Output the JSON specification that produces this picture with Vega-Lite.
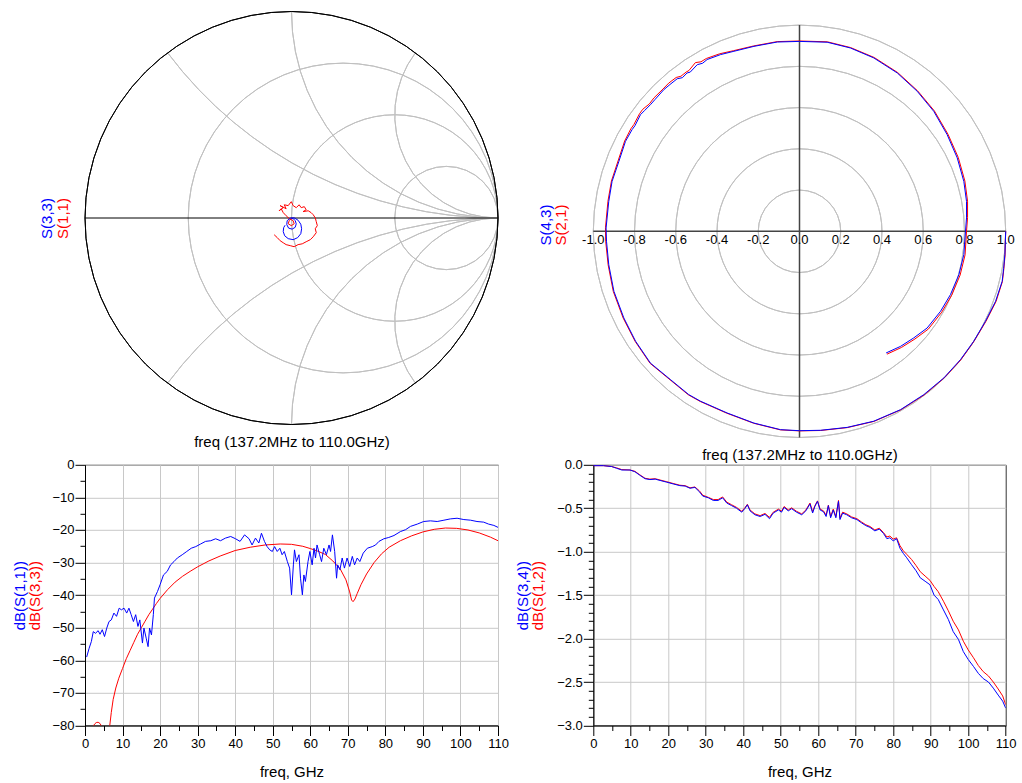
{
  "$schema": "https://vega.github.io/schema/vega-lite/v6.json",
  "background": "white",
  "padding": {"left": 11, "top": 9.5, "right": 4, "bottom": 4},
  "locale": {"number": {"decimal": ".", "thousands": ",", "grouping": [3], "currency": ["", ""], "minus": "-"}},
  "config": {
    "font": "Liberation Sans",
    "view": {"stroke": null},
    "axis": {
      "labelFont": "Liberation Sans", "titleFont": "Liberation Sans",
      "labelFontSize": 13, "titleFontSize": 15, "titleFontWeight": "normal",
      "labelColor": "#000", "titleColor": "#000", "domainColor": "#000", "tickColor": "#000",
      "gridColor": "#c8c8c8", "gridWidth": 1, "labelOverlap": false, "labelFlush": false
    }
  },
  "columns": 2,
  "bounds": "flush",
  "spacing": {"row": 27.3, "column": 95.3},
  "concat": [
    {
      "width": 413, "height": 413,
      "layer": [
        {
          "data": {"name": "smithGrid"},
          "mark": {"type": "arc", "filled": false, "color": "#c0c0c0", "stroke": "#c0c0c0", "strokeWidth": 1},
          "encoding": {
            "x": {"field": "cx", "type": "quantitative", "scale": {"domain": [-1, 1], "nice": false, "zero": false}, "axis": null},
            "y": {"field": "cy", "type": "quantitative", "scale": {"domain": [-1, 1], "nice": false, "zero": false}, "axis": null},
            "radius": {"field": "rad", "type": "quantitative", "scale": {"type": "linear", "domain": [0, 1], "range": [0, 206.5], "zero": true}},
            "radius2": {"field": "rad"},
            "theta": {"field": "t1", "type": "quantitative", "scale": {"domain": [0, 360], "range": [0, 6.283185307179586]}, "stack": false},
            "theta2": {"field": "t2"}
          }
        },
        {
          "data": {"name": "smithOuter"},
          "mark": {"type": "arc", "filled": false, "color": "#000", "stroke": "#000", "strokeWidth": 1},
          "encoding": {
            "x": {"field": "cx", "type": "quantitative", "scale": {"domain": [-1, 1], "nice": false, "zero": false}, "axis": null},
            "y": {"field": "cy", "type": "quantitative", "scale": {"domain": [-1, 1], "nice": false, "zero": false}, "axis": null},
            "radius": {"field": "rad", "type": "quantitative", "scale": {"type": "linear", "domain": [0, 1], "range": [0, 206.5], "zero": true}},
            "radius2": {"field": "rad"},
            "theta": {"field": "t1", "type": "quantitative", "scale": {"domain": [0, 360], "range": [0, 6.283185307179586]}, "stack": false},
            "theta2": {"field": "t2"}
          }
        },
        {
          "data": {"name": "smithAxis"},
          "mark": {"type": "rule", "color": "#000", "strokeWidth": 1},
          "encoding": {
            "x": {"field": "x1", "type": "quantitative", "scale": {"domain": [-1, 1], "nice": false, "zero": false}, "axis": null},
            "x2": {"field": "x2"},
            "y": {"field": "y1", "type": "quantitative", "scale": {"domain": [-1, 1], "nice": false, "zero": false}, "axis": null},
            "y2": {"field": "y2"}
          }
        },
        {
          "data": {"name": "s11smith"},
          "mark": {"type": "line", "color": "#ff0000", "strokeWidth": 1},
          "encoding": {
            "x": {"field": "re", "type": "quantitative", "scale": {"domain": [-1, 1], "nice": false, "zero": false},
                  "axis": {"orient": "bottom", "title": "freq (137.2MHz to 110.0GHz)", "domain": false, "ticks": false, "labels": false, "grid": false, "titlePadding": 10}},
            "y": {"field": "im", "type": "quantitative", "scale": {"domain": [-1, 1], "nice": false, "zero": false},
                  "axis": {"orient": "left", "title": "S(1,1)", "titleColor": "#ff0000", "domain": false, "ticks": false, "labels": false, "grid": false, "titleX": -22.5, "titleBaseline": "middle"}},
            "order": {"field": "i", "type": "quantitative"}
          }
        },
        {
          "data": {"name": "s33smith"},
          "mark": {"type": "line", "color": "#0000ff", "strokeWidth": 1},
          "encoding": {
            "x": {"field": "re", "type": "quantitative", "scale": {"domain": [-1, 1], "nice": false, "zero": false}, "axis": null},
            "y": {"field": "im", "type": "quantitative", "scale": {"domain": [-1, 1], "nice": false, "zero": false},
                  "axis": {"orient": "left", "title": "S(3,3)", "titleColor": "#0000ff", "domain": false, "ticks": false, "labels": false, "grid": false, "titleX": -38.3, "titleBaseline": "middle"}},
            "order": {"field": "i", "type": "quantitative"}
          }
        }
      ],
      "resolve": {"axis": {"x": "independent", "y": "independent"}}
    },
    {
      "width": 412.4, "height": 426,
      "layer": [
        {
          "data": {"name": "polarGrid"},
          "mark": {"type": "arc", "filled": false, "color": "#c0c0c0", "stroke": "#c0c0c0", "strokeWidth": 1},
          "encoding": {
            "x": {"field": "cx", "type": "quantitative", "scale": {"domain": [-1, 1], "nice": false, "zero": false}, "axis": null},
            "y": {"field": "cy", "type": "quantitative", "scale": {"domain": [-1, 1.066], "nice": false, "zero": false}, "axis": null},
            "radius": {"field": "rad", "type": "quantitative", "scale": {"type": "linear", "domain": [0, 1], "range": [0, 206.2], "zero": true}},
            "radius2": {"field": "rad"},
            "theta": {"field": "t1", "type": "quantitative", "scale": {"domain": [0, 360], "range": [0, 6.283185307179586]}, "stack": false},
            "theta2": {"field": "t2"}
          }
        },
        {
          "data": {"name": "polarAxes"},
          "mark": {"type": "rule", "color": "#444444", "strokeWidth": 1.5},
          "encoding": {
            "x": {"field": "x1", "type": "quantitative", "scale": {"domain": [-1, 1], "nice": false, "zero": false}, "axis": null},
            "x2": {"field": "x2"},
            "y": {"field": "y1", "type": "quantitative", "scale": {"domain": [-1, 1.066], "nice": false, "zero": false}, "axis": null},
            "y2": {"field": "y2"}
          }
        },
        {
          "data": {"name": "polarLabels"},
          "mark": {"type": "text", "fontSize": 13, "font": "Liberation Sans", "color": "#000", "align": "center", "baseline": "middle", "dy": 9},
          "encoding": {
            "x": {"field": "v", "type": "quantitative", "scale": {"domain": [-1, 1], "nice": false, "zero": false}, "axis": null},
            "y": {"field": "w", "type": "quantitative", "scale": {"domain": [-1, 1.066], "nice": false, "zero": false}, "axis": null},
            "text": {"field": "lab"}
          }
        },
        {
          "data": {"name": "s21polar"},
          "mark": {"type": "line", "color": "#ff0000", "strokeWidth": 1},
          "encoding": {
            "x": {"field": "re", "type": "quantitative", "scale": {"domain": [-1, 1], "nice": false, "zero": false},
                  "axis": {"orient": "bottom", "title": "freq (137.2MHz to 110.0GHz)", "domain": false, "ticks": false, "labels": false, "grid": false, "titlePadding": 10}},
            "y": {"field": "im", "type": "quantitative", "scale": {"domain": [-1, 1.066], "nice": false, "zero": false},
                  "axis": {"orient": "left", "title": "S(2,1)", "titleColor": "#ff0000", "domain": false, "ticks": false, "labels": false, "grid": false, "titleX": -33, "titleBaseline": "middle"}},
            "order": {"field": "i", "type": "quantitative"}
          }
        },
        {
          "data": {"name": "s43polar"},
          "mark": {"type": "line", "color": "#0000ff", "strokeWidth": 1},
          "encoding": {
            "x": {"field": "re", "type": "quantitative", "scale": {"domain": [-1, 1], "nice": false, "zero": false}, "axis": null},
            "y": {"field": "im", "type": "quantitative", "scale": {"domain": [-1, 1.066], "nice": false, "zero": false},
                  "axis": {"orient": "left", "title": "S(4,3)", "titleColor": "#0000ff", "domain": false, "ticks": false, "labels": false, "grid": false, "titleX": -47.5, "titleBaseline": "middle"}},
            "order": {"field": "i", "type": "quantitative"}
          }
        }
      ],
      "resolve": {"axis": {"x": "independent", "y": "independent"}}
    },
    {
      "width": 413, "height": 260.7,
      "view": {"stroke": "#000", "strokeWidth": 1},
      "layer": [
        {
          "data": {"name": "s33db"},
          "mark": {"type": "line", "color": "#ff0000", "strokeWidth": 1, "clip": true},
          "encoding": {
            "x": {"field": "f", "type": "quantitative", "scale": {"domain": [0, 110], "nice": false, "zero": false},
                  "axis": {"orient": "bottom", "values": [0, 10, 20, 30, 40, 50, 60, 70, 80, 90, 100, 110], "format": "d", "tickSize": 10, "labelPadding": 2, "grid": true, "title": "freq, GHz", "titlePadding": 14}},
            "y": {"field": "db", "type": "quantitative", "scale": {"domain": [-80, 0], "nice": false, "zero": false},
                  "axis": {"orient": "left", "values": [0, -10, -20, -30, -40, -50, -60, -70, -80], "format": "d", "tickSize": 10, "labelPadding": 1, "grid": true, "title": "dB(S(3,3))", "titleColor": "#ff0000", "titleX": -51, "titleBaseline": "middle"}}
          }
        },
        {
          "data": {"name": "s11db"},
          "mark": {"type": "line", "color": "#0000ff", "strokeWidth": 1, "clip": true},
          "encoding": {
            "x": {"field": "f", "type": "quantitative", "scale": {"domain": [0, 110], "nice": false, "zero": false},
                  "axis": {"orient": "bottom", "values": [5, 15, 25, 35, 45, 55, 65, 75, 85, 95, 105], "tickSize": 5, "labels": false, "domain": false, "grid": false, "title": null}},
            "y": {"field": "db", "type": "quantitative", "scale": {"domain": [-80, 0], "nice": false, "zero": false},
                  "axis": {"orient": "left", "values": [-5, -15, -25, -35, -45, -55, -65, -75], "tickSize": 5, "labels": false, "domain": false, "grid": false, "title": "dB(S(1,1))", "titleColor": "#0000ff", "titleX": -66, "titleBaseline": "middle"}}
          }
        }
      ],
      "resolve": {"axis": {"x": "independent", "y": "independent"}}
    },
    {
      "width": 412.4, "height": 260.7,
      "view": {"stroke": "#000", "strokeWidth": 1},
      "layer": [
        {
          "data": {"name": "s12db"},
          "mark": {"type": "line", "color": "#ff0000", "strokeWidth": 1, "clip": true},
          "encoding": {
            "x": {"field": "f", "type": "quantitative", "scale": {"domain": [0, 110], "nice": false, "zero": false},
                  "axis": {"orient": "bottom", "values": [0, 10, 20, 30, 40, 50, 60, 70, 80, 90, 100, 110], "format": "d", "tickSize": 10, "labelPadding": 2, "grid": true, "title": "freq, GHz", "titlePadding": 14}},
            "y": {"field": "db", "type": "quantitative", "scale": {"domain": [-3, 0], "nice": false, "zero": false},
                  "axis": {"orient": "left", "values": [0, -0.5, -1, -1.5, -2, -2.5, -3], "format": ".1f", "tickSize": 10, "labelPadding": 1, "grid": true, "title": "dB(S(1,2))", "titleColor": "#ff0000", "titleX": -55.8, "titleBaseline": "middle"}}
          }
        },
        {
          "data": {"name": "s34db"},
          "mark": {"type": "line", "color": "#0000ff", "strokeWidth": 1, "clip": true},
          "encoding": {
            "x": {"field": "f", "type": "quantitative", "scale": {"domain": [0, 110], "nice": false, "zero": false},
                  "axis": {"orient": "bottom", "values": [5, 15, 25, 35, 45, 55, 65, 75, 85, 95, 105], "tickSize": 5, "labels": false, "domain": false, "grid": false, "title": null}},
            "y": {"field": "db", "type": "quantitative", "scale": {"domain": [-3, 0], "nice": false, "zero": false},
                  "axis": {"orient": "left", "values": [-0.1, -0.2, -0.3, -0.4, -0.6, -0.7, -0.8, -0.9, -1.1, -1.2, -1.3, -1.4, -1.6, -1.7, -1.8, -1.9, -2.1, -2.2, -2.3, -2.4, -2.6, -2.7, -2.8, -2.9], "tickSize": 5, "labels": false, "domain": false, "grid": false, "title": "dB(S(3,4))", "titleColor": "#0000ff", "titleX": -71.3, "titleBaseline": "middle"}}
          }
        }
      ],
      "resolve": {"axis": {"x": "independent", "y": "independent"}}
    }
  ],
  "datasets": {
    "smithGrid": [
      {"cx": 0.25, "cy": 0, "rad": 0.75, "t1": 0, "t2": 360},
      {"cx": 0.5, "cy": 0, "rad": 0.5, "t1": 0, "t2": 360},
      {"cx": 0.75, "cy": 0, "rad": 0.25, "t1": 0, "t2": 360},
      {"cx": 1, "cy": 2, "rad": 2, "t1": 180, "t2": 233.13},
      {"cx": 1, "cy": 1, "rad": 1, "t1": 180, "t2": 270},
      {"cx": 1, "cy": 0.5, "rad": 0.5, "t1": 180, "t2": 306.87},
      {"cx": 1, "cy": -2, "rad": 2, "t1": 306.87, "t2": 360},
      {"cx": 1, "cy": -1, "rad": 1, "t1": 270, "t2": 360},
      {"cx": 1, "cy": -0.5, "rad": 0.5, "t1": 233.13, "t2": 360}
    ],
    "smithOuter": [{"cx": 0, "cy": 0, "rad": 1, "t1": 0, "t2": 360}],
    "smithAxis": [{"x1": -1, "x2": 1, "y1": 0, "y2": 0}],
    "polarGrid": [
      {"cx": 0, "cy": 0, "rad": 0.2, "t1": 0, "t2": 360},
      {"cx": 0, "cy": 0, "rad": 0.4, "t1": 0, "t2": 360},
      {"cx": 0, "cy": 0, "rad": 0.6, "t1": 0, "t2": 360},
      {"cx": 0, "cy": 0, "rad": 0.8, "t1": 0, "t2": 360},
      {"cx": 0, "cy": 0, "rad": 1.0, "t1": 0, "t2": 360}
    ],
    "polarAxes": [
      {"x1": -1, "x2": 1, "y1": 0, "y2": 0},
      {"x1": 0, "x2": 0, "y1": -1, "y2": 1}
    ],
    "polarLabels": [
      {"v": -1.0, "w": 0, "lab": "-1.0"}, {"v": -0.8, "w": 0, "lab": "-0.8"}, {"v": -0.6, "w": 0, "lab": "-0.6"},
      {"v": -0.4, "w": 0, "lab": "-0.4"}, {"v": -0.2, "w": 0, "lab": "-0.2"}, {"v": 0.0, "w": 0, "lab": "0.0"},
      {"v": 0.2, "w": 0, "lab": "0.2"}, {"v": 0.4, "w": 0, "lab": "0.4"}, {"v": 0.6, "w": 0, "lab": "0.6"},
      {"v": 0.8, "w": 0, "lab": "0.8"}, {"v": 1.0, "w": 0, "lab": "1.0"}
    ],
    "s11smith": [
      {"i": 0, "re": 0, "im": 0}, {"i": 1, "re": -0.011, "im": -0.013}, {"i": 2, "re": -0.016, "im": -0.028},
      {"i": 3, "re": -0.001, "im": -0.037}, {"i": 4, "re": 0.013, "im": -0.028}, {"i": 5, "re": 0.008, "im": -0.013},
      {"i": 6, "re": -0.011, "im": -0.003}, {"i": 7, "re": -0.026, "im": 0.011}, {"i": 8, "re": -0.040, "im": 0.026},
      {"i": 9, "re": -0.050, "im": 0.045}, {"i": 10, "re": -0.060, "im": 0.035}, {"i": 11, "re": -0.040, "im": 0.050},
      {"i": 12, "re": -0.055, "im": 0.060}, {"i": 13, "re": -0.026, "im": 0.045}, {"i": 14, "re": -0.035, "im": 0.064},
      {"i": 15, "re": -0.016, "im": 0.060}, {"i": 16, "re": -0.001, "im": 0.079}, {"i": 17, "re": 0.008, "im": 0.060},
      {"i": 18, "re": 0.023, "im": 0.050}, {"i": 19, "re": 0.037, "im": 0.064}, {"i": 20, "re": 0.047, "im": 0.050},
      {"i": 21, "re": 0.062, "im": 0.055}, {"i": 22, "re": 0.071, "im": 0.040}, {"i": 23, "re": 0.056, "im": 0.031},
      {"i": 24, "re": 0.081, "im": 0.035}, {"i": 25, "re": 0.095, "im": 0.026}, {"i": 26, "re": 0.105, "im": 0.016},
      {"i": 27, "re": 0.115, "im": 0.001}, {"i": 28, "re": 0.120, "im": -0.018}, {"i": 29, "re": 0.125, "im": -0.037},
      {"i": 30, "re": 0.115, "im": -0.052}, {"i": 31, "re": 0.120, "im": -0.071}, {"i": 32, "re": 0.105, "im": -0.091},
      {"i": 33, "re": 0.091, "im": -0.105}, {"i": 34, "re": 0.071, "im": -0.115}, {"i": 35, "re": 0.052, "im": -0.125},
      {"i": 36, "re": 0.032, "im": -0.129}, {"i": 37, "re": 0.013, "im": -0.139}, {"i": 38, "re": -0.006, "im": -0.134},
      {"i": 39, "re": -0.026, "im": -0.129}, {"i": 40, "re": -0.040, "im": -0.120}, {"i": 41, "re": -0.055, "im": -0.110},
      {"i": 42, "re": -0.069, "im": -0.095}, {"i": 43, "re": -0.084, "im": -0.081}
    ],
    "s33smith": [
      {"i": 0, "re": 0, "im": 0}, {"i": 1, "re": 0.008, "im": -0.003}, {"i": 2, "re": 0.018, "im": -0.013},
      {"i": 3, "re": 0.023, "im": -0.028}, {"i": 4, "re": 0.018, "im": -0.045}, {"i": 5, "re": 0.003, "im": -0.054},
      {"i": 6, "re": -0.014, "im": -0.049}, {"i": 7, "re": -0.023, "im": -0.032}, {"i": 8, "re": -0.021, "im": -0.013},
      {"i": 9, "re": -0.006, "im": -0.001}, {"i": 10, "re": 0.013, "im": 0.001}, {"i": 11, "re": 0.032, "im": -0.011},
      {"i": 12, "re": 0.045, "im": -0.030}, {"i": 13, "re": 0.049, "im": -0.052}, {"i": 14, "re": 0.045, "im": -0.076},
      {"i": 15, "re": 0.030, "im": -0.095}, {"i": 16, "re": 0.008, "im": -0.105}, {"i": 17, "re": -0.016, "im": -0.100},
      {"i": 18, "re": -0.033, "im": -0.086}, {"i": 19, "re": -0.040, "im": -0.066}, {"i": 20, "re": -0.038, "im": -0.047},
      {"i": 21, "re": -0.031, "im": -0.035}
    ],
    "s43polar": [
      {"i": 0, "re": 1.000, "im": 0.000}, {"i": 1, "re": 0.998, "im": -0.060}, {"i": 2, "re": 0.996, "im": -0.113},
      {"i": 3, "re": 0.990, "im": -0.180}, {"i": 4, "re": 0.983, "im": -0.242}, {"i": 5, "re": 0.951, "im": -0.339},
      {"i": 6, "re": 0.902, "im": -0.436}, {"i": 7, "re": 0.845, "im": -0.533}, {"i": 8, "re": 0.781, "im": -0.622},
      {"i": 9, "re": 0.700, "im": -0.711}, {"i": 10, "re": 0.603, "im": -0.792}, {"i": 11, "re": 0.490, "im": -0.865},
      {"i": 12, "re": 0.360, "im": -0.921}, {"i": 13, "re": 0.231, "im": -0.951}, {"i": 14, "re": 0.102, "im": -0.965},
      {"i": 15, "re": 0.000, "im": -0.967}, {"i": 16, "re": -0.092, "im": -0.962}, {"i": 17, "re": -0.221, "im": -0.930},
      {"i": 18, "re": -0.351, "im": -0.881}, {"i": 19, "re": -0.480, "im": -0.824}, {"i": 20, "re": -0.537, "im": -0.792},
      {"i": 21, "re": -0.626, "im": -0.719}, {"i": 22, "re": -0.723, "im": -0.639}, {"i": 23, "re": -0.795, "im": -0.533},
      {"i": 24, "re": -0.852, "im": -0.420}, {"i": 25, "re": -0.900, "im": -0.291}, {"i": 26, "re": -0.925, "im": -0.162},
      {"i": 27, "re": -0.936, "im": -0.048}, {"i": 28, "re": -0.938, "im": 0.016}, {"i": 29, "re": -0.925, "im": 0.145},
      {"i": 30, "re": -0.909, "im": 0.242}, {"i": 31, "re": -0.876, "im": 0.339}, {"i": 32, "re": -0.844, "im": 0.436},
      {"i": 33, "re": -0.812, "im": 0.493}, {"i": 34, "re": -0.798, "im": 0.512}, {"i": 35, "re": -0.771, "im": 0.566},
      {"i": 36, "re": -0.752, "im": 0.585}, {"i": 37, "re": -0.723, "im": 0.614}, {"i": 38, "re": -0.700, "im": 0.640},
      {"i": 39, "re": -0.658, "im": 0.687}, {"i": 40, "re": -0.628, "im": 0.712}, {"i": 41, "re": -0.593, "im": 0.740},
      {"i": 42, "re": -0.568, "im": 0.745}, {"i": 43, "re": -0.545, "im": 0.768}, {"i": 44, "re": -0.530, "im": 0.772},
      {"i": 45, "re": -0.496, "im": 0.808}, {"i": 46, "re": -0.470, "im": 0.815}, {"i": 47, "re": -0.448, "im": 0.833},
      {"i": 48, "re": -0.383, "im": 0.857}, {"i": 49, "re": -0.318, "im": 0.873}, {"i": 50, "re": -0.221, "im": 0.897},
      {"i": 51, "re": -0.108, "im": 0.918}, {"i": 52, "re": 0.000, "im": 0.921}, {"i": 53, "re": 0.134, "im": 0.917},
      {"i": 54, "re": 0.247, "im": 0.889}, {"i": 55, "re": 0.360, "im": 0.841}, {"i": 56, "re": 0.474, "im": 0.768},
      {"i": 57, "re": 0.571, "im": 0.679}, {"i": 58, "re": 0.651, "im": 0.582}, {"i": 59, "re": 0.716, "im": 0.469},
      {"i": 60, "re": 0.765, "im": 0.356}, {"i": 61, "re": 0.797, "im": 0.242}, {"i": 62, "re": 0.810, "im": 0.145},
      {"i": 63, "re": 0.810, "im": 0.065}, {"i": 64, "re": 0.805, "im": 0.000}, {"i": 65, "re": 0.797, "im": -0.113},
      {"i": 66, "re": 0.773, "im": -0.210}, {"i": 67, "re": 0.732, "im": -0.307}, {"i": 68, "re": 0.684, "im": -0.388},
      {"i": 69, "re": 0.619, "im": -0.469}, {"i": 70, "re": 0.554, "im": -0.517}, {"i": 71, "re": 0.490, "im": -0.558},
      {"i": 72, "re": 0.420, "im": -0.590}
    ],
    "s21polar": [
      {"i": 0, "re": 1.000, "im": 0.000}, {"i": 1, "re": 0.998, "im": -0.062}, {"i": 2, "re": 0.997, "im": -0.115},
      {"i": 3, "re": 0.991, "im": -0.182}, {"i": 4, "re": 0.984, "im": -0.244}, {"i": 5, "re": 0.953, "im": -0.341},
      {"i": 6, "re": 0.904, "im": -0.437}, {"i": 7, "re": 0.846, "im": -0.534}, {"i": 8, "re": 0.782, "im": -0.624},
      {"i": 9, "re": 0.701, "im": -0.712}, {"i": 10, "re": 0.604, "im": -0.794}, {"i": 11, "re": 0.491, "im": -0.866},
      {"i": 12, "re": 0.361, "im": -0.922}, {"i": 13, "re": 0.232, "im": -0.952}, {"i": 14, "re": 0.103, "im": -0.966},
      {"i": 15, "re": 0.000, "im": -0.968}, {"i": 16, "re": -0.093, "im": -0.963}, {"i": 17, "re": -0.222, "im": -0.931},
      {"i": 18, "re": -0.353, "im": -0.882}, {"i": 19, "re": -0.482, "im": -0.825}, {"i": 20, "re": -0.539, "im": -0.793},
      {"i": 21, "re": -0.628, "im": -0.720}, {"i": 22, "re": -0.725, "im": -0.640}, {"i": 23, "re": -0.797, "im": -0.534},
      {"i": 24, "re": -0.855, "im": -0.421}, {"i": 25, "re": -0.903, "im": -0.292}, {"i": 26, "re": -0.928, "im": -0.163},
      {"i": 27, "re": -0.940, "im": -0.048}, {"i": 28, "re": -0.941, "im": 0.017}, {"i": 29, "re": -0.929, "im": 0.146},
      {"i": 30, "re": -0.912, "im": 0.244}, {"i": 31, "re": -0.880, "im": 0.341}, {"i": 32, "re": -0.848, "im": 0.438},
      {"i": 33, "re": -0.818, "im": 0.497}, {"i": 34, "re": -0.803, "im": 0.518}, {"i": 35, "re": -0.776, "im": 0.570},
      {"i": 36, "re": -0.760, "im": 0.592}, {"i": 37, "re": -0.728, "im": 0.618}, {"i": 38, "re": -0.706, "im": 0.647},
      {"i": 39, "re": -0.662, "im": 0.690}, {"i": 40, "re": -0.634, "im": 0.719}, {"i": 41, "re": -0.598, "im": 0.746},
      {"i": 42, "re": -0.575, "im": 0.752}, {"i": 43, "re": -0.550, "im": 0.772}, {"i": 44, "re": -0.536, "im": 0.780},
      {"i": 45, "re": -0.505, "im": 0.818}, {"i": 46, "re": -0.478, "im": 0.822}, {"i": 47, "re": -0.452, "im": 0.838},
      {"i": 48, "re": -0.387, "im": 0.861}, {"i": 49, "re": -0.320, "im": 0.876}, {"i": 50, "re": -0.222, "im": 0.899},
      {"i": 51, "re": -0.108, "im": 0.920}, {"i": 52, "re": 0.000, "im": 0.923}, {"i": 53, "re": 0.135, "im": 0.919},
      {"i": 54, "re": 0.248, "im": 0.891}, {"i": 55, "re": 0.362, "im": 0.843}, {"i": 56, "re": 0.476, "im": 0.770},
      {"i": 57, "re": 0.573, "im": 0.681}, {"i": 58, "re": 0.654, "im": 0.584}, {"i": 59, "re": 0.720, "im": 0.471},
      {"i": 60, "re": 0.770, "im": 0.358}, {"i": 61, "re": 0.802, "im": 0.244}, {"i": 62, "re": 0.815, "im": 0.146},
      {"i": 63, "re": 0.815, "im": 0.066}, {"i": 64, "re": 0.810, "im": 0.000}, {"i": 65, "re": 0.803, "im": -0.114},
      {"i": 66, "re": 0.779, "im": -0.212}, {"i": 67, "re": 0.738, "im": -0.310}, {"i": 68, "re": 0.690, "im": -0.392},
      {"i": 69, "re": 0.625, "im": -0.474}, {"i": 70, "re": 0.560, "im": -0.522}, {"i": 71, "re": 0.495, "im": -0.563},
      {"i": 72, "re": 0.424, "im": -0.596}
    ],
    "s11db": [
      {"f": 0.44, "db": -59.0}, {"f": 1.1, "db": -56.3}, {"f": 1.7, "db": -54.2}, {"f": 2.2, "db": -51.2},
      {"f": 2.8, "db": -51.7}, {"f": 3.5, "db": -50.9}, {"f": 4.0, "db": -52.0}, {"f": 4.6, "db": -50.6},
      {"f": 5.2, "db": -52.7}, {"f": 5.8, "db": -50.1}, {"f": 6.4, "db": -48.1}, {"f": 7.0, "db": -47.6},
      {"f": 7.7, "db": -45.5}, {"f": 8.4, "db": -46.5}, {"f": 9.1, "db": -44.0}, {"f": 9.7, "db": -44.5},
      {"f": 10.4, "db": -44.0}, {"f": 11.1, "db": -45.5}, {"f": 11.7, "db": -44.0}, {"f": 12.3, "db": -46.0},
      {"f": 12.9, "db": -48.1}, {"f": 13.5, "db": -46.0}, {"f": 14.1, "db": -49.6}, {"f": 14.6, "db": -47.6},
      {"f": 15.3, "db": -54.7}, {"f": 15.7, "db": -50.1}, {"f": 16.3, "db": -53.2}, {"f": 16.8, "db": -55.8},
      {"f": 17.2, "db": -50.1}, {"f": 17.7, "db": -52.2}, {"f": 18.2, "db": -46.0}, {"f": 18.5, "db": -40.9},
      {"f": 19.3, "db": -38.9}, {"f": 20.0, "db": -36.8}, {"f": 20.9, "db": -33.8}, {"f": 21.9, "db": -32.7},
      {"f": 22.8, "db": -30.7}, {"f": 23.7, "db": -29.7}, {"f": 24.6, "db": -28.6}, {"f": 25.9, "db": -27.6},
      {"f": 27.1, "db": -26.6}, {"f": 28.3, "db": -25.6}, {"f": 29.5, "db": -25.1}, {"f": 30.8, "db": -24.3},
      {"f": 32.1, "db": -23.5}, {"f": 33.5, "db": -23.3}, {"f": 34.8, "db": -22.7}, {"f": 36.1, "db": -23.3},
      {"f": 37.4, "db": -22.5}, {"f": 38.8, "db": -22.0}, {"f": 40.1, "db": -22.7}, {"f": 41.3, "db": -23.5},
      {"f": 42.5, "db": -21.5}, {"f": 43.7, "db": -22.7}, {"f": 44.5, "db": -24.6}, {"f": 45.4, "db": -22.5},
      {"f": 46.3, "db": -24.0}, {"f": 47.0, "db": -21.0}, {"f": 47.8, "db": -23.5}, {"f": 48.5, "db": -25.1},
      {"f": 49.2, "db": -26.1}, {"f": 49.9, "db": -26.6}, {"f": 50.5, "db": -25.1}, {"f": 51.2, "db": -26.6},
      {"f": 51.9, "db": -25.6}, {"f": 52.5, "db": -27.6}, {"f": 53.1, "db": -26.6}, {"f": 53.9, "db": -29.7},
      {"f": 54.5, "db": -31.7}, {"f": 55.0, "db": -39.9}, {"f": 55.5, "db": -30.7}, {"f": 55.8, "db": -26.1},
      {"f": 56.3, "db": -29.7}, {"f": 57.0, "db": -27.6}, {"f": 57.4, "db": -34.8}, {"f": 57.9, "db": -39.9},
      {"f": 58.3, "db": -33.8}, {"f": 58.7, "db": -35.8}, {"f": 59.4, "db": -29.7}, {"f": 59.9, "db": -26.6},
      {"f": 60.5, "db": -30.7}, {"f": 61.0, "db": -25.6}, {"f": 61.4, "db": -28.6}, {"f": 61.8, "db": -24.6},
      {"f": 62.5, "db": -27.6}, {"f": 63.0, "db": -29.7}, {"f": 63.6, "db": -25.6}, {"f": 64.3, "db": -27.6},
      {"f": 65.0, "db": -24.6}, {"f": 65.4, "db": -26.6}, {"f": 65.9, "db": -21.5}, {"f": 66.5, "db": -26.6},
      {"f": 67.0, "db": -34.8}, {"f": 67.3, "db": -30.7}, {"f": 67.9, "db": -32.2}, {"f": 68.5, "db": -28.6},
      {"f": 69.1, "db": -31.7}, {"f": 69.8, "db": -28.6}, {"f": 70.5, "db": -31.2}, {"f": 71.2, "db": -28.1},
      {"f": 71.8, "db": -30.7}, {"f": 72.5, "db": -28.6}, {"f": 73.2, "db": -29.7}, {"f": 74.1, "db": -27.1},
      {"f": 75.2, "db": -25.6}, {"f": 76.5, "db": -25.1}, {"f": 77.4, "db": -24.6}, {"f": 78.3, "db": -23.5},
      {"f": 79.6, "db": -22.7}, {"f": 80.9, "db": -22.3}, {"f": 82.3, "db": -21.7}, {"f": 84.0, "db": -20.5},
      {"f": 85.4, "db": -19.9}, {"f": 86.7, "db": -18.9}, {"f": 88.5, "db": -18.2}, {"f": 90.2, "db": -17.4},
      {"f": 92.0, "db": -17.2}, {"f": 93.8, "db": -17.4}, {"f": 95.6, "db": -17.0}, {"f": 97.3, "db": -16.6},
      {"f": 99.1, "db": -16.4}, {"f": 100.9, "db": -16.8}, {"f": 102.7, "db": -17.0}, {"f": 104.4, "db": -17.4},
      {"f": 106.2, "db": -17.6}, {"f": 107.5, "db": -18.2}, {"f": 108.9, "db": -18.6}, {"f": 110.0, "db": -19.2}
    ],
    "s33db": [
      {"f": 1.0, "db": -86}, {"f": 2.0, "db": -80.5}, {"f": 2.6, "db": -79.5}, {"f": 3.0, "db": -79.1},
      {"f": 3.5, "db": -79.0}, {"f": 4.0, "db": -79.4}, {"f": 4.5, "db": -80.4}, {"f": 5.0, "db": -83},
      {"f": 5.6, "db": -88}, {"f": 6.2, "db": -84}, {"f": 6.6, "db": -80}, {"f": 7.0, "db": -76},
      {"f": 7.5, "db": -72}, {"f": 8.2, "db": -68.5}, {"f": 9, "db": -65.5}, {"f": 10, "db": -62.5},
      {"f": 11, "db": -59.5}, {"f": 12, "db": -57}, {"f": 13, "db": -54.5}, {"f": 14, "db": -52},
      {"f": 15, "db": -50}, {"f": 16, "db": -48}, {"f": 17, "db": -46}, {"f": 18, "db": -44.3},
      {"f": 19, "db": -42.6}, {"f": 20, "db": -41}, {"f": 22, "db": -38.3}, {"f": 24, "db": -36},
      {"f": 26, "db": -34.2}, {"f": 28, "db": -32.7}, {"f": 30, "db": -31.3}, {"f": 33, "db": -29.5},
      {"f": 36, "db": -28}, {"f": 40, "db": -26.3}, {"f": 44, "db": -25.3}, {"f": 48, "db": -24.6},
      {"f": 52, "db": -24.3}, {"f": 55, "db": -24.4}, {"f": 58, "db": -25}, {"f": 60, "db": -25.7},
      {"f": 62, "db": -26.5}, {"f": 64, "db": -27.5}, {"f": 66, "db": -29.5}, {"f": 68, "db": -32},
      {"f": 69.5, "db": -35.3}, {"f": 70.5, "db": -39}, {"f": 71, "db": -41.5}, {"f": 71.4, "db": -42},
      {"f": 71.9, "db": -41.2}, {"f": 72.5, "db": -39.5}, {"f": 73.5, "db": -36.8}, {"f": 75, "db": -33.5},
      {"f": 77, "db": -30}, {"f": 79, "db": -27.3}, {"f": 81, "db": -25.3}, {"f": 84, "db": -23.3},
      {"f": 87, "db": -21.8}, {"f": 90, "db": -20.6}, {"f": 93, "db": -19.8}, {"f": 96, "db": -19.4},
      {"f": 99, "db": -19.5}, {"f": 102, "db": -20}, {"f": 105, "db": -20.9}, {"f": 108, "db": -22.2},
      {"f": 110, "db": -23.3}
    ],
    "s34db": [
      {"f": 0, "db": -0.01}, {"f": 2.7, "db": -0.01}, {"f": 4.9, "db": -0.02}, {"f": 6.2, "db": -0.04},
      {"f": 7.6, "db": -0.06}, {"f": 9.8, "db": -0.06}, {"f": 11.1, "db": -0.08}, {"f": 12.4, "db": -0.12},
      {"f": 13.8, "db": -0.16}, {"f": 15.1, "db": -0.17}, {"f": 16.5, "db": -0.165}, {"f": 17.8, "db": -0.18},
      {"f": 19.6, "db": -0.2}, {"f": 21.3, "db": -0.22}, {"f": 23.1, "db": -0.24}, {"f": 24.5, "db": -0.245},
      {"f": 25.8, "db": -0.27}, {"f": 27.1, "db": -0.26}, {"f": 28.3, "db": -0.31}, {"f": 29.2, "db": -0.36},
      {"f": 30.7, "db": -0.38}, {"f": 32.0, "db": -0.41}, {"f": 33.3, "db": -0.41}, {"f": 34.5, "db": -0.38},
      {"f": 35.6, "db": -0.44}, {"f": 36.9, "db": -0.47}, {"f": 38.2, "db": -0.5}, {"f": 39.6, "db": -0.545},
      {"f": 40.5, "db": -0.5}, {"f": 41.1, "db": -0.46}, {"f": 41.8, "db": -0.53}, {"f": 43.1, "db": -0.575},
      {"f": 44.5, "db": -0.595}, {"f": 45.8, "db": -0.57}, {"f": 47.0, "db": -0.62}, {"f": 48.0, "db": -0.555},
      {"f": 49.4, "db": -0.52}, {"f": 50.2, "db": -0.545}, {"f": 50.9, "db": -0.49}, {"f": 52.0, "db": -0.53},
      {"f": 52.9, "db": -0.505}, {"f": 54.2, "db": -0.545}, {"f": 55.6, "db": -0.575}, {"f": 56.7, "db": -0.53},
      {"f": 57.8, "db": -0.45}, {"f": 58.5, "db": -0.555}, {"f": 59.1, "db": -0.48}, {"f": 59.8, "db": -0.42},
      {"f": 60.5, "db": -0.52}, {"f": 61.4, "db": -0.54}, {"f": 62.1, "db": -0.595}, {"f": 62.7, "db": -0.47},
      {"f": 63.3, "db": -0.61}, {"f": 64.0, "db": -0.52}, {"f": 64.7, "db": -0.61}, {"f": 65.4, "db": -0.42},
      {"f": 65.8, "db": -0.63}, {"f": 66.5, "db": -0.556}, {"f": 67.6, "db": -0.575}, {"f": 68.9, "db": -0.61},
      {"f": 70.3, "db": -0.63}, {"f": 71.6, "db": -0.67}, {"f": 72.7, "db": -0.70}, {"f": 73.8, "db": -0.72},
      {"f": 75.1, "db": -0.76}, {"f": 76.3, "db": -0.74}, {"f": 77.4, "db": -0.79}, {"f": 78.3, "db": -0.85},
      {"f": 79.1, "db": -0.84}, {"f": 80.0, "db": -0.875}, {"f": 80.9, "db": -0.85}, {"f": 81.8, "db": -0.96},
      {"f": 82.7, "db": -1.02}, {"f": 83.6, "db": -1.07}, {"f": 84.9, "db": -1.15}, {"f": 86.1, "db": -1.22},
      {"f": 87.2, "db": -1.30}, {"f": 88.5, "db": -1.34}, {"f": 89.8, "db": -1.38}, {"f": 90.9, "db": -1.50},
      {"f": 92.0, "db": -1.55}, {"f": 93.4, "db": -1.67}, {"f": 94.7, "db": -1.78}, {"f": 96.0, "db": -1.92},
      {"f": 97.4, "db": -2.01}, {"f": 98.7, "db": -2.15}, {"f": 100.0, "db": -2.24}, {"f": 101.4, "db": -2.32},
      {"f": 102.7, "db": -2.40}, {"f": 104.0, "db": -2.46}, {"f": 105.4, "db": -2.50}, {"f": 106.7, "db": -2.57},
      {"f": 108.0, "db": -2.65}, {"f": 109.2, "db": -2.72}, {"f": 110.0, "db": -2.80}
    ],
    "s12db": [
      {"f": 0, "db": -0.01}, {"f": 2.7, "db": -0.01}, {"f": 4.9, "db": -0.02}, {"f": 6.2, "db": -0.035},
      {"f": 7.6, "db": -0.055}, {"f": 9.8, "db": -0.06}, {"f": 11.1, "db": -0.075}, {"f": 12.4, "db": -0.115},
      {"f": 13.8, "db": -0.155}, {"f": 15.1, "db": -0.165}, {"f": 16.5, "db": -0.16}, {"f": 17.8, "db": -0.175},
      {"f": 19.6, "db": -0.195}, {"f": 21.3, "db": -0.215}, {"f": 23.1, "db": -0.235}, {"f": 24.5, "db": -0.24},
      {"f": 25.8, "db": -0.265}, {"f": 27.1, "db": -0.255}, {"f": 28.3, "db": -0.3}, {"f": 29.2, "db": -0.35},
      {"f": 30.7, "db": -0.375}, {"f": 32.0, "db": -0.4}, {"f": 33.3, "db": -0.4}, {"f": 34.5, "db": -0.37},
      {"f": 35.6, "db": -0.43}, {"f": 36.9, "db": -0.46}, {"f": 38.2, "db": -0.49}, {"f": 39.6, "db": -0.535},
      {"f": 40.5, "db": -0.49}, {"f": 41.1, "db": -0.455}, {"f": 41.8, "db": -0.52}, {"f": 43.1, "db": -0.565},
      {"f": 44.5, "db": -0.585}, {"f": 45.8, "db": -0.56}, {"f": 47.0, "db": -0.605}, {"f": 48.0, "db": -0.545},
      {"f": 49.4, "db": -0.51}, {"f": 50.2, "db": -0.535}, {"f": 50.9, "db": -0.48}, {"f": 52.0, "db": -0.52},
      {"f": 52.9, "db": -0.495}, {"f": 54.2, "db": -0.535}, {"f": 55.6, "db": -0.565}, {"f": 56.7, "db": -0.52},
      {"f": 57.8, "db": -0.44}, {"f": 58.5, "db": -0.54}, {"f": 59.1, "db": -0.47}, {"f": 59.8, "db": -0.415},
      {"f": 60.5, "db": -0.51}, {"f": 61.4, "db": -0.53}, {"f": 62.1, "db": -0.58}, {"f": 62.7, "db": -0.465},
      {"f": 63.3, "db": -0.595}, {"f": 64.0, "db": -0.51}, {"f": 64.7, "db": -0.595}, {"f": 65.4, "db": -0.41},
      {"f": 65.8, "db": -0.615}, {"f": 66.5, "db": -0.545}, {"f": 67.6, "db": -0.565}, {"f": 68.9, "db": -0.6},
      {"f": 70.3, "db": -0.62}, {"f": 71.6, "db": -0.66}, {"f": 72.7, "db": -0.69}, {"f": 73.8, "db": -0.71},
      {"f": 75.1, "db": -0.75}, {"f": 76.3, "db": -0.73}, {"f": 77.4, "db": -0.78}, {"f": 78.3, "db": -0.83},
      {"f": 79.1, "db": -0.82}, {"f": 80.0, "db": -0.855}, {"f": 80.9, "db": -0.84}, {"f": 81.8, "db": -0.93},
      {"f": 82.7, "db": -0.99}, {"f": 83.6, "db": -1.03}, {"f": 84.9, "db": -1.09}, {"f": 86.1, "db": -1.16},
      {"f": 87.2, "db": -1.23}, {"f": 88.5, "db": -1.28}, {"f": 89.8, "db": -1.33}, {"f": 90.9, "db": -1.40},
      {"f": 92.0, "db": -1.46}, {"f": 93.4, "db": -1.57}, {"f": 94.7, "db": -1.68}, {"f": 96.0, "db": -1.80},
      {"f": 97.4, "db": -1.90}, {"f": 98.7, "db": -2.03}, {"f": 100.0, "db": -2.13}, {"f": 101.4, "db": -2.22},
      {"f": 102.7, "db": -2.31}, {"f": 104.0, "db": -2.38}, {"f": 105.4, "db": -2.43}, {"f": 106.7, "db": -2.50},
      {"f": 108.0, "db": -2.58}, {"f": 109.2, "db": -2.66}, {"f": 110.0, "db": -2.76}
    ]
  }
}
